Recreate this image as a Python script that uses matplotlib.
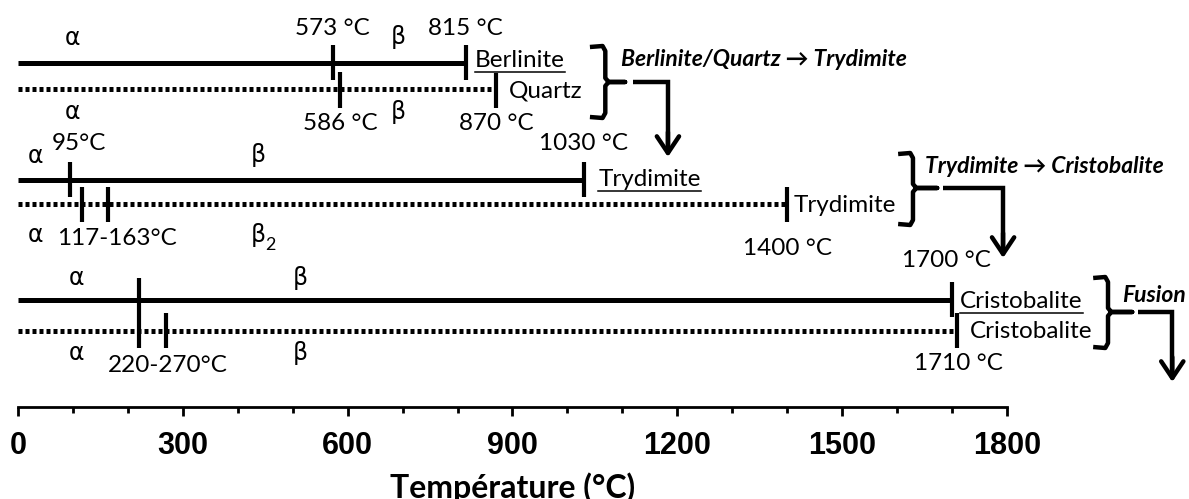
import matplotlib
matplotlib.use("Agg")
import matplotlib.pyplot as plt
from matplotlib.ticker import FixedLocator

plt.rcParams['font.family'] = ['Lato', 'DejaVu Sans']

# transition temperatures (°C)
berlinite_t = [573, 815]
quartz_t = [586, 870]
trydimite1_t = [95, 1030]
trydimite2_t = [117, 163, 1400]
cristo1_t = [220, 1700]
cristo2_t = [270, 1710]

axis_ticks = [0, 300, 600, 900, 1200, 1500, 1800]
axis_labels = [str(t) for t in axis_ticks]
minor_ticks = list(range(0, 1801, 100))

# layout: row height (pixels from the top) and the vertical span of each mark
rows = [
    (berlinite_t, 63, '-', [(45, 80), (45, 80)]),
    (quartz_t, 89, ':', [(72, 108), (73, 108)]),
    (trydimite1_t, 180, '-', [(162, 197), (162, 197)]),
    (trydimite2_t, 204, ':', [(187, 222), (187, 222), (187, 222)]),
    (cristo1_t, 300, '-', [(278, 348), (282, 317)]),
    (cristo2_t, 331, ':', [(313, 348), (313, 348)]),
]

W, H = 1189, 499
scale = 0.5494  # pixels per °C
x0 = 18

fig = plt.figure(figsize=(W / 100, H / 100), dpi=100)
ax = fig.add_axes([0, 0, 1, 1])
xmin, xmax = -x0 / scale, (W - x0) / scale
ax.set_xlim(xmin, xmax)
ax.set_ylim(H, 0)

lw = 3.6
for temps, y, ls, spans in rows:
    if ls == '-':
        ax.plot([0, max(temps)], [y, y], color='black', lw=lw, solid_capstyle='butt')
    else:
        ax.plot([0, max(temps)], [y, y], color='black', lw=lw,
                linestyle=(0, (0.8, 0.6)), dash_capstyle='butt')
    for t, (ya, yb) in zip(temps, spans):
        ax.plot([t, t], [ya, yb], color='black', lw=3, solid_capstyle='butt')

fs = 17.5
txt = dict(fontsize=fs, va='baseline', ha='center')
grk = dict(fontsize=17, va='baseline', ha='center', family='DejaVu Sans')
lft = dict(fontsize=fs, va='baseline', ha='left')

# Berlinite / Quartz
ax.text(100, 45, 'α', **grk)
ax.text(573, 35, '573 °C', **txt)
ax.text(692, 44, 'β', **grk)
ax.text(815, 35, '815 °C', **txt)
ax.text(100, 119, 'α', **grk)
ax.text(586, 130, '586 °C', **txt)
ax.text(692, 119, 'β', **grk)
ax.text(870, 130, '870 °C', **txt)
t_berl = ax.text(832, 67, 'Berlinite', **lft)
ax.text(894, 97, 'Quartz', **lft)

# Trydimite
ax.text(31, 163, 'α', **grk)
ax.text(111, 150, '95°C', **txt)
ax.text(437, 162, 'β', **grk)
ax.text(1030, 150, '1030 °C', **txt)
ax.text(31, 242, 'α', **grk)
ax.text(180, 245, '117-163°C', **txt)
ax.text(437, 242, 'β', **grk)
ax.text(450, 250, '2', fontsize=13, va='baseline', ha='left')
ax.text(1400, 255, '1400 °C', **txt)
t_tryd = ax.text(1056, 186, 'Trydimite', **lft)
ax.text(1411, 212, 'Trydimite', **lft)
ax.text(1690, 267, '1700 °C', **txt)

# Cristobalite
ax.text(107, 285, 'α', **grk)
ax.text(513, 285, 'β', **grk)
ax.text(107, 360, 'α', **grk)
ax.text(273, 372, '220-270°C', **txt)
ax.text(513, 360, 'β', **grk)
ax.text(1711, 370, '1710 °C', **txt)
t_cris = ax.text(1715, 308, 'Cristobalite', **lft)
ax.text(1733, 338, 'Cristobalite', **lft)

# braces and arrows to the next stage
bi = dict(fontsize=16.5, fontweight='bold', fontstyle='italic', va='baseline', ha='left')
stages = [
    ('Berlinite/Quartz → Trydimite', 1041, 1069, 1105, 1119, 1183, 46, 118, 82, 157, 1098, 66),
    ('Trydimite → Cristobalite', 1602, 1629, 1673, 1684, 1793, 153, 225, 188, 258, 1651, 173),
    ('Fusion', 1957, 1984, 2028, 2039, 2101, 277, 348, 312, 382, 2010, 302),
]
for label, xa, xv, xn, xs, xe, yt, yb, ym, ytip, xt, yl in stages:
    bx = [xa, xv - 5, xv, xv, xv + 6, xn, xv + 6, xv, xv, xv - 5, xa]
    by = [yt + 1, yt, yt + 5, ym - 4, ym, ym, ym, ym + 4, yb - 5, yb, yb - 1]
    ax.plot(bx, by, color='black', lw=3.2, solid_joinstyle='round', solid_capstyle='butt')
    ax.plot([xs, xe, xe], [ym, ym, ytip - 4], color='black', lw=3.2,
            solid_joinstyle='miter', solid_capstyle='butt')
    ax.annotate('', xy=(xe, ytip), xytext=(xe, ytip - 25),
                arrowprops=dict(arrowstyle='->,head_length=0.6,head_width=0.4',
                                lw=3.2, color='black', mutation_scale=20,
                                shrinkA=0, shrinkB=0))
    ax.text(xt, yl, label, **bi)

# temperature axis
for s in ['top', 'left', 'right']:
    ax.spines[s].set_visible(False)
ax.spines['bottom'].set_position(('data', 407))
ax.spines['bottom'].set_bounds(0, 1800)
ax.spines['bottom'].set_linewidth(2)
ax.yaxis.set_visible(False)
ax.set_xticks(axis_ticks, axis_labels, fontsize=22, fontweight='bold',
              family='Liberation Sans')
ax.xaxis.set_minor_locator(FixedLocator(minor_ticks))
ax.tick_params(axis='x', which='major', direction='out', length=6.5, width=2, pad=11)
ax.tick_params(axis='x', which='minor', direction='out', length=4.3, width=2)
ax.set_xlabel('Température (°C)', fontsize=23, fontweight='bold', labelpad=8,
              x=(900 - xmin) / (xmax - xmin))

# underline the first label of each pair
fig.canvas.draw()
r = fig.canvas.get_renderer()
inv = ax.transData.inverted()
for t in [t_berl, t_tryd, t_cris]:
    bb = t.get_window_extent(r)
    (xl, _), (xr, _) = inv.transform([(bb.x0, bb.y0), (bb.x1, bb.y0)])
    yb = t.get_position()[1] + 5
    ax.plot([xl, xr], [yb, yb], color='black', lw=1.1)

fig.savefig('out.png', dpi=100)
